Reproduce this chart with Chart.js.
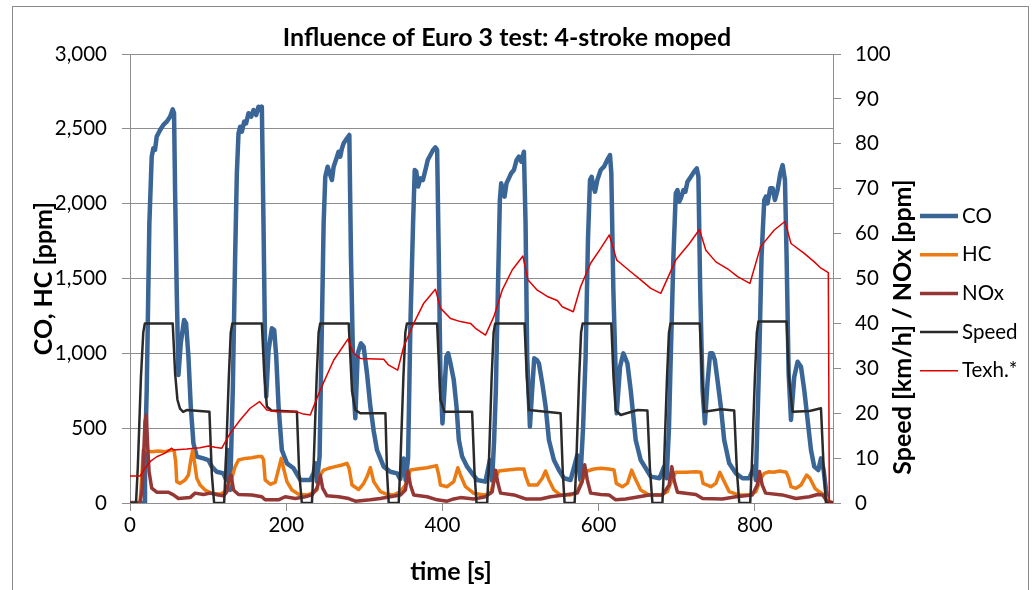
<!DOCTYPE html>
<html>
<head>
<meta charset="utf-8">
<script src="https://cdn.jsdelivr.net/npm/chart.js@4.4.1/dist/chart.umd.min.js"></script>
<style>
    body { margin: 0; background: #fff; }
    #wrap { position: relative; width: 1032px; height: 590px; }
    #frame { position: absolute; left: 12px; top: 6px; width: 1015px; height: 620px; border: 1px solid #8a8a8a; pointer-events: none; }
</style>
</head>
<body>
<div id="wrap">
    <canvas id="show_chart" width="1032" height="590"></canvas>
    <div id="frame"></div>
</div>
<script>
// ===== DATA (time in s) =====
const speedTime = [0, 7.7, 10, 14, 17, 19, 54.7, 57.7, 60.7, 64, 68, 72.6, 101.7, 104.7, 107.7,
    120.5, 122.5, 126.5, 129, 131, 168.8, 171.8, 175.2, 181, 213.7, 216.5, 220,
    232.9, 235, 239, 241.5, 243.5, 280, 284.2, 288.5, 294.9, 327, 329, 331.2,
    344, 346, 350, 352.5, 354.5, 393.2, 397.4, 402.6, 438, 441, 443.6,
    457.3, 459.3, 463, 465.5, 467.5, 505.1, 508, 510.7, 551.3, 554, 556.4,
    569.2, 571.2, 575, 577.5, 579.5, 616.2, 619, 621.8, 628.2, 649.6, 662.4, 665.5, 668.8,
    681.6, 683.6, 687.5, 690, 692, 729.5, 732.5, 735, 756.4, 773.5, 777, 780,
    794, 796, 800, 802.5, 804.5, 840.6, 843.5, 848.3, 870, 884.6, 888, 891, 900]
const speedKmh = [0, 0, 8, 28, 38, 40, 40, 29, 23, 21, 20.3, 20.7, 20.3, 6.6, 0,
    0, 8, 28, 38, 40, 40, 29, 21.5, 20.6, 20.3, 7, 0,
    0, 8, 28, 38, 40, 40, 25, 20.7, 20, 20, 7, 0,
    0, 8, 28, 38, 40, 40, 23, 20.3, 20.3, 7, 0,
    0, 8, 28, 38, 40, 40, 28, 20.7, 20, 7, 0,
    0, 8, 28, 38, 40, 40, 28, 20.7, 19.6, 20.7, 20.6, 8, 0,
    0, 8, 28, 38, 40, 40, 28, 20.3, 20.9, 20.6, 7, 0,
    0, 8, 28, 38, 40.4, 40.4, 28, 20.3, 20.5, 21.1, 8, 0, 0]

const coTime = [0, 18, 19.2, 21.4, 24.8, 27.8, 29.9, 32, 34.2, 38.5, 42.7, 47, 51.3, 54.7, 56.4, 57.7, 59.8, 62, 65, 69.2, 71.8, 74.8, 77.8, 81.2, 85.5, 94, 100.4, 104.7, 111, 119.7, 123, 124.8, 128.2,
    131.6, 134.6, 136.8, 138.9, 141, 143.2, 146.2, 148.7, 151.7, 155.1, 158.1, 161.5, 164.5, 166.7, 168.8, 170.9, 173.1, 174.4, 177.4, 181.6, 184.6, 187.2, 190.2, 194.4, 200.9, 209.4, 218, 230.8, 235, 237.2, 239.3, 242.7,
    245.7, 247.9, 250, 253, 255.6, 258.5, 260.7, 265, 267, 269.2, 271.4, 273.5, 277.8, 280.8, 282.9, 286.3, 288.5, 291.5, 295.7, 299.1, 303.4, 307.7, 310, 312, 316.2, 324.8, 333.3, 342, 346, 350.4, 353,
    356, 359, 362.4, 364.5, 366.5, 368.8, 371.8, 375, 378.2, 381.2, 384.6, 388, 391, 393.2, 395.3, 397.4, 400, 402.6, 405, 407.3, 410.3, 414.5, 418, 421, 425.2, 431.6, 438, 444.4, 455, 460.7, 463.5,
    466, 468.4, 471, 473.5, 475.2, 477.8, 479.5, 482, 485, 488, 491.5, 494.9, 497.9, 501, 504.3, 506.4, 508.5, 512, 515.4, 517.5, 521, 523.5, 527.8, 532.1, 536.3, 542.7, 549.1, 555.6, 564.1, 572.6, 576.5,
    580, 583.3, 586.3, 588.9, 591, 593.2, 595.3, 598.3, 602.6, 606.8, 611, 614.5, 616.2, 618.8, 621.8, 623.1, 627.4, 631.6, 636.8, 641, 647.4, 653.8, 660.3, 666.7, 678, 683.8, 687,
    690, 692.3, 695.7, 698.7, 700.9, 703, 705.5, 708.5, 711, 713.7, 718, 722.2, 725.6, 727.7, 730, 733, 736, 739.3, 742.7, 745.7, 748.7, 752.1, 756.4, 760.7, 767.1, 775.6, 784.2, 792.7, 799.1, 801.2,
    805.6, 808.5, 812, 814, 816.2, 819.7, 822.7, 825.6, 829, 832.5, 835.5, 838.5, 840.6, 843.2, 846.2, 850.4, 854.7, 859, 863.2, 867.5, 871.8, 876, 881.2, 884.6, 888, 891, 893.2, 900]
const coPpm = [0, 0, 310, 755, 1870, 2314, 2370, 2359, 2448, 2492, 2526, 2548, 2581, 2630, 2604, 2091, 1423, 855, 1067, 1223, 1200, 978, 644, 399, 310, 298, 287, 243, 209, 198, 154, 354, 87,
    755, 1646, 2203, 2470, 2514, 2481, 2548, 2537, 2604, 2581, 2626, 2592, 2648, 2626, 2648, 1869, 978, 710, 1022, 1167, 1156, 978, 644, 354, 265, 232, 154, 154, 198, 265, 143, 310,
    1200, 1869, 2180, 2247, 2203, 2158, 2247, 2314, 2347, 2314, 2370, 2403, 2437, 2459, 1646, 755, 566, 1000, 1067, 1045, 866, 644, 560, 480, 354, 243, 209, 198, 160, 298, 150,
    300, 1200, 1869, 2225, 2214, 2114, 2169, 2158, 2225, 2292, 2325, 2359, 2376, 2359, 1646, 866, 532, 755, 978, 1000, 933, 822, 644, 421, 310, 243, 198, 154, 143, 287, 150,
    400, 755, 1423, 2025, 2136, 2091, 2047, 2136, 2169, 2203, 2225, 2292, 2314, 2280, 2347, 1869, 978, 510, 800, 967, 955, 933, 800, 644, 421, 287, 220, 165, 154, 320, 154,
    500, 978, 1757, 2158, 2180, 2114, 2080, 2158, 2225, 2247, 2292, 2325, 2203, 1423, 866, 599, 911, 1000, 933, 755, 421, 287, 232, 176, 165, 243, 165,
    500, 978, 1646, 2069, 2091, 2013, 2040, 2091, 2080, 2147, 2180, 2214, 2236, 2180, 1423, 755, 532, 800, 1000, 1000, 955, 822, 644, 421, 265, 198, 165, 165, 243, 154,
    978, 1646, 2025, 2047, 2002, 2103, 2103, 2025, 2091, 2203, 2258, 2158, 1646, 866, 555, 844, 944, 911, 755, 555, 354, 243, 220, 298, 220, 87, 9, 0]

const hcTime = [0, 12.8, 15, 17, 20, 23, 27.8, 36, 44.9, 53.4, 56.5, 58.5, 59.8, 64.1, 70.5, 74.8, 78.2, 80.3, 82.5, 85.5, 89.7, 96.2, 104.7, 115.4, 121.8, 126,
    130.3, 134.6, 138.9, 147.4, 155.9, 164.5, 168.8, 171, 173, 179.5, 185.9, 191, 193.6, 196.6, 200.9, 207.3, 215.8, 226.5, 232.9, 239.3,
    243.6, 247.9, 254.3, 262.8, 271.4, 277.8, 280.5, 284.2, 292.7, 299, 303.4, 307.7, 312, 320.5, 329, 337.5, 346, 352.6,
    359, 367.5, 380.3, 392.3, 395.3, 397.4, 406, 414.5, 419.7, 423, 429.5, 440.2, 453, 461.5, 465.8,
    472.2, 483, 495.7, 504.3, 506.5, 510.7, 521.4, 527.8, 532, 536.3, 542.7, 551.3, 564.1, 572.6, 579,
    585.5, 594, 602.6, 613.2, 619.7, 622.6, 630.3, 636.8, 642.3, 646.6, 653.8, 664.5, 679.5, 688, 694.4,
    698.7, 711.5, 724.4, 730.8, 733.7, 743.6, 750, 755.1, 760.7, 767.1, 779.9, 792.7, 801.3, 807.7,
    812, 818.4, 824, 831.6, 840.2, 843, 846.2, 852.6, 859, 866.2, 870.5, 876.9, 883.3, 889.7, 894, 900]
const hcPpm = [0, 0, 165, 354, 365, 345, 343, 348, 343, 354, 348, 276, 143, 131, 154, 187, 298, 354, 276, 165, 120, 87, 65, 58, 76, 120,
    165, 243, 287, 298, 303, 310, 310, 290, 154, 125, 138, 243, 298, 232, 143, 87, 58, 53, 65, 87,
    187, 220, 232, 243, 254, 265, 232, 120, 90, 130, 175, 236, 143, 76, 58, 53, 76, 120,
    220, 227, 236, 250, 187, 120, 109, 143, 236, 187, 109, 65, 53, 65, 143,
    214, 220, 227, 227, 180, 120, 120, 165, 214, 154, 87, 53, 53, 76, 154,
    214, 227, 232, 227, 220, 131, 109, 131, 220, 165, 87, 53, 53, 76, 165,
    205, 205, 209, 205, 131, 109, 131, 205, 143, 76, 53, 53, 76, 165,
    198, 209, 205, 214, 205, 170, 109, 98, 120, 187, 165, 98, 71, 53, 9, 0]

const noxTime = [0, 12.8, 15.5, 17.1, 19.2, 20.9, 22.6, 24.4, 27.8, 34.2, 49.1, 55.6, 62, 76.9, 83.3, 94, 102.6, 113.2, 119.7, 123.9, 126.9, 129.5, 132.5, 138.9,
    156, 168.8, 173, 190, 198.7, 211.5, 224.4, 232.9, 239.3, 243.6, 246.6, 252.1, 267, 280, 288.5, 307.7, 320.5, 333, 346.2, 352.6, 356, 359, 363.2,
    380.3, 393.2, 406, 414.5, 423, 440.2, 455.1, 463.7, 468, 471, 474.4, 491.5, 506.4, 525.6, 538.5, 555.6, 572.6, 579, 582.1, 585.5, 589.7,
    602.6, 613.2, 621.8, 634.6, 651.7, 664.5, 681.6, 690.2, 693.6, 697, 700.9, 724.4, 733, 758.5, 775.6, 796.6, 803, 806, 809.4, 813.7,
    835, 852.6, 869.7, 880.3, 886.8, 891, 894.4, 900]
const noxPpm = [0, 0, 3, 9.2, 18.1, 19.6, 12.9, 7, 3.3, 2.4, 2.4, 1.8, 1.0, 1.2, 2.2, 1.9, 2.2, 1.8, 1.6, 2.5, 5.5, 6.2, 2.9, 1.9,
    1.8, 1.4, 0.7, 0.7, 1.4, 1.0, 1.4, 1.8, 3.3, 6.2, 3.3, 1.6, 1.4, 1.0, 0.4, 0.7, 1.0, 1.4, 1.8, 2.9, 7.0, 4.0, 1.8,
    1.4, 0.7, 0.4, 0.9, 1.2, 0.9, 1.4, 2.5, 7.3, 4.4, 2.2, 1.8, 0.9, 0.9, 1.4, 1.8, 2.2, 4.8, 8.5, 5.1, 2.2,
    1.9, 1.8, 0.7, 0.9, 1.4, 1.8, 1.8, 4.0, 8.1, 4.8, 2.4, 1.9, 1.0, 0.9, 1.4, 1.8, 4.0, 7.0, 4.0, 2.2,
    1.8, 1.0, 1.4, 1.9, 1.8, 0.7, 0.1, 0]

const texhTime = [0, 12.8, 19.2, 25.6, 34.2, 44.9, 53.4, 55.6, 72.6, 89.7, 100.4, 109, 117.5, 128.2, 141, 153.8, 165.8, 175.2, 188, 213.7, 222.2, 230.8,
    243.6, 260.7, 279, 286.3, 294.9, 324.8, 331.2, 342.7, 350.4, 363.2, 376.1, 391, 397.4, 410.3, 423.1, 435.9, 442.3, 455.1,
    465.8, 476.5, 489.3, 503, 509.4, 521.4, 534.2, 547, 553.4, 567.5, 576.9, 589.7, 602.6, 613.7, 623.1, 628, 641, 653.8, 666.7, 679.5,
    698.7, 716.2, 729, 737.2, 750, 767.1, 777.8, 793.6, 807.3, 824.8, 838.5, 846.2, 863.2, 876, 884.6, 894, 895.3, 900]
const texhVal = [6.0, 6.0, 7.7, 9.2, 10.3, 11.1, 12.2, 11.8, 12.0, 12.3, 12.7, 12.4, 12.2, 15.5, 18.5, 21.1, 22.6, 20.7, 20.3, 20.3, 19.8, 19.6,
    25.2, 31.8, 36.5, 33.3, 32.2, 32.0, 30.7, 29.6, 34.8, 40, 44.5, 47.6, 43.4, 41.1, 40.4, 40, 38.9, 37.4,
    41.5, 47.4, 51.9, 55.0, 49.7, 47.4, 46, 45.1, 43.7, 42.6, 48.2, 53.4, 56.7, 59.7, 54.1, 53.4, 51.5, 49.7, 47.8, 46.7,
    54.1, 57.8, 60.9, 56.3, 53.7, 51.9, 50.4, 48.9, 57.1, 60.8, 62.7, 57.8, 55.6, 53.7, 52.3, 51.3, 0, 0]

const pts = (xs, ys) => xs.map((x, i) => ({ x: x, y: ys[i] }))

Chart.defaults.font.family = 'Lato, "Open Sans", sans-serif'
Chart.defaults.color = '#000'

const gridGray = '#8e8e8e'

// texts that chart.js places differently: x title, right axis title (reads upwards), legend
const extraText = {
    id: 'extraText',
    afterDraw(chart) {
        const c = chart.ctx
        c.save()
        c.fillStyle = '#000'
        c.font = 'bold 25px Lato'
        c.textAlign = 'center'
        c.textBaseline = 'middle'
        c.fillText('time [s]', 451, 572)
        c.translate(903, 327)
        c.rotate(-Math.PI / 2)
        c.fillText('Speed [km/h] / NOx [ppm]', 0, 0)
        c.restore()

        c.save()
        c.font = '20.5px Lato'
        c.textBaseline = 'middle'
        chart.data.datasets.forEach((ds, i) => {
            const y = 216 + i * 38.7
            c.strokeStyle = ds.borderColor
            c.lineWidth = ds.borderWidth
            c.beginPath()
            c.moveTo(920, y)
            c.lineTo(958, y)
            c.stroke()
            c.fillStyle = '#000'
            c.fillText(ds.label, 962, y)
        })
        c.restore()
    }
}

const ctx = document.querySelector('#show_chart').getContext('2d')

new Chart(ctx, {
    type: 'line',
    data: {
        datasets: [
            { label: 'CO', data: pts(coTime, coPpm), yAxisID: 'y', borderColor: '#3a6597', borderWidth: 4.5, order: 5 },
            { label: 'HC', data: pts(hcTime, hcPpm), yAxisID: 'y', borderColor: '#ec7a13', borderWidth: 3.5, order: 4 },
            { label: 'NOx', data: pts(noxTime, noxPpm), yAxisID: 'y1', borderColor: '#953735', borderWidth: 3.5, order: 3 },
            { label: 'Speed', data: pts(speedTime, speedKmh), yAxisID: 'y1', borderColor: '#2a2a2a', borderWidth: 2.5, order: 2 },
            { label: 'Texh.*', data: pts(texhTime, texhVal), yAxisID: 'y1', borderColor: '#e00000', borderWidth: 1.5, order: 1 }
        ]
    },
    options: {
        responsive: false,
        animation: false,
        devicePixelRatio: 1,
        layout: { padding: { left: 0, right: 18, top: 0, bottom: 0 } },
        elements: {
            point: { radius: 0 },
            line: { tension: 0, borderJoinStyle: 'round', borderCapStyle: 'round' }
        },
        plugins: {
            legend: { display: false },
            tooltip: { enabled: false },
            title: {
                display: true,
                text: 'Influence of Euro 3 test: 4-stroke moped',
                color: '#000',
                font: { size: 25, weight: 'bold' },
                padding: { top: 23, bottom: 1 }
            }
        },
        scales: {
            x: {
                type: 'linear',
                min: 0,
                max: 900,
                afterFit: (s) => { s.height = 87 },
                ticks: { stepSize: 200, includeBounds: false, font: { size: 20.5 }, padding: 2, maxRotation: 0 },
                grid: { drawOnChartArea: false, color: gridGray, tickLength: 8 },
                border: { color: gridGray }
            },
            y: {
                position: 'left',
                min: 0,
                max: 3000,
                afterFit: (s) => { s.width = 130 },
                ticks: { stepSize: 500, font: { size: 20.5 }, padding: 15, callback: (v) => v.toLocaleString('en-US') },
                grid: { color: gridGray, tickLength: 8 },
                border: { color: gridGray },
                title: { display: true, text: 'CO, HC [ppm]', color: '#000', font: { size: 25, weight: 'bold' }, padding: { top: 29, bottom: 0 } }
            },
            y1: {
                position: 'right',
                min: 0,
                max: 100,
                afterFit: (s) => { s.width = 181 },
                ticks: { stepSize: 10, font: { size: 20.5 }, padding: 14 },
                grid: { drawOnChartArea: false, color: gridGray, tickLength: 8 },
                border: { color: gridGray }
            }
        }
    },
    plugins: [extraText]
})
</script>
</body>
</html>
